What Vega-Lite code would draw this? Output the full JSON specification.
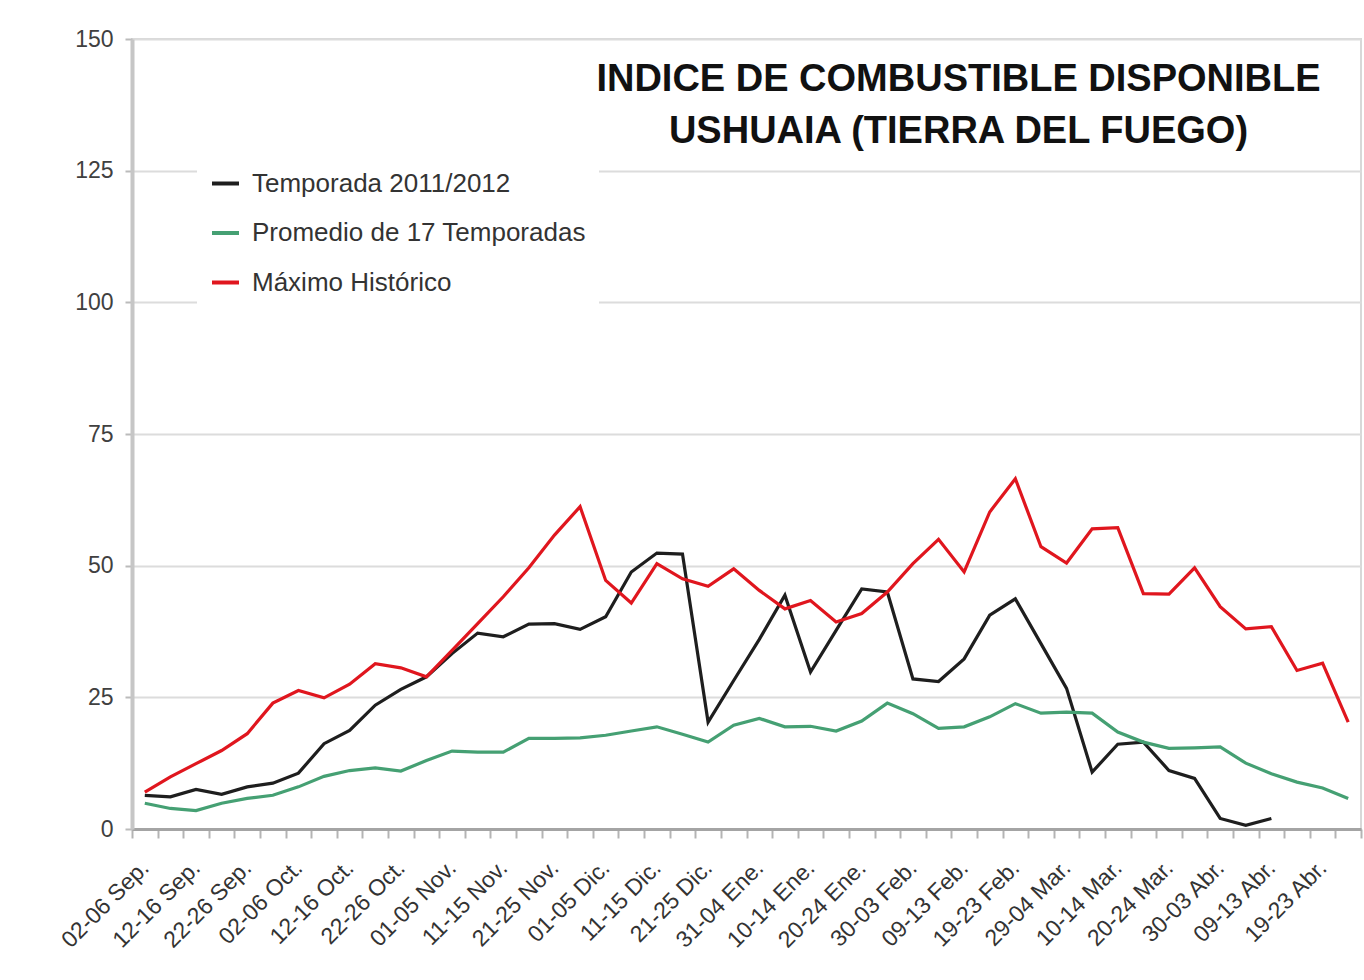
{
  "$schema": "https://vega.github.io/schema/vega-lite/v6.json",
  "width": 1229,
  "height": 790,
  "autosize": {"type": "none"},
  "padding": {"left": 132, "top": 39, "right": 3, "bottom": 151},
  "background": "#ffffff",
  "title": {
    "text": ["INDICE DE COMBUSTIBLE DISPONIBLE", "USHUAIA (TIERRA DEL FUEGO)"],
    "anchor": "middle",
    "frame": "group",
    "orient": "top",
    "baseline": "top",
    "offset": 0,
    "dx": 212,
    "dy": 123,
    "font": "Liberation Sans, Arial, sans-serif",
    "fontSize": 38,
    "fontWeight": "bold",
    "color": "#111111",
    "lineHeight": 52
  },
  "data": {
    "values": [
      {"periodo": "02-06 Sep.", "serie": "Temporada 2011/2012", "valor": 6.4},
      {"periodo": "07-11 Sep.", "serie": "Temporada 2011/2012", "valor": 6.1},
      {"periodo": "12-16 Sep.", "serie": "Temporada 2011/2012", "valor": 7.5},
      {"periodo": "17-21 Sep.", "serie": "Temporada 2011/2012", "valor": 6.6},
      {"periodo": "22-26 Sep.", "serie": "Temporada 2011/2012", "valor": 8.0},
      {"periodo": "27-01 Oct.", "serie": "Temporada 2011/2012", "valor": 8.7},
      {"periodo": "02-06 Oct.", "serie": "Temporada 2011/2012", "valor": 10.6},
      {"periodo": "07-11 Oct.", "serie": "Temporada 2011/2012", "valor": 16.2},
      {"periodo": "12-16 Oct.", "serie": "Temporada 2011/2012", "valor": 18.7},
      {"periodo": "17-21 Oct.", "serie": "Temporada 2011/2012", "valor": 23.5},
      {"periodo": "22-26 Oct.", "serie": "Temporada 2011/2012", "valor": 26.5},
      {"periodo": "27-31 Oct.", "serie": "Temporada 2011/2012", "valor": 28.9},
      {"periodo": "01-05 Nov.", "serie": "Temporada 2011/2012", "valor": 33.3},
      {"periodo": "06-10 Nov.", "serie": "Temporada 2011/2012", "valor": 37.2},
      {"periodo": "11-15 Nov.", "serie": "Temporada 2011/2012", "valor": 36.5},
      {"periodo": "16-20 Nov.", "serie": "Temporada 2011/2012", "valor": 38.9},
      {"periodo": "21-25 Nov.", "serie": "Temporada 2011/2012", "valor": 39.0},
      {"periodo": "26-30 Nov.", "serie": "Temporada 2011/2012", "valor": 37.9},
      {"periodo": "01-05 Dic.", "serie": "Temporada 2011/2012", "valor": 40.3},
      {"periodo": "06-10 Dic.", "serie": "Temporada 2011/2012", "valor": 48.8},
      {"periodo": "11-15 Dic.", "serie": "Temporada 2011/2012", "valor": 52.4},
      {"periodo": "16-20 Dic.", "serie": "Temporada 2011/2012", "valor": 52.2},
      {"periodo": "21-25 Dic.", "serie": "Temporada 2011/2012", "valor": 20.3},
      {"periodo": "26-30 Dic.", "serie": "Temporada 2011/2012", "valor": 28.2},
      {"periodo": "31-04 Ene.", "serie": "Temporada 2011/2012", "valor": 36.0},
      {"periodo": "05-09 Ene.", "serie": "Temporada 2011/2012", "valor": 44.4},
      {"periodo": "10-14 Ene.", "serie": "Temporada 2011/2012", "valor": 29.8},
      {"periodo": "15-19 Ene.", "serie": "Temporada 2011/2012", "valor": 37.7},
      {"periodo": "20-24 Ene.", "serie": "Temporada 2011/2012", "valor": 45.6},
      {"periodo": "25-29 Ene.", "serie": "Temporada 2011/2012", "valor": 45.0},
      {"periodo": "30-03 Feb.", "serie": "Temporada 2011/2012", "valor": 28.5},
      {"periodo": "04-08 Feb.", "serie": "Temporada 2011/2012", "valor": 28.0},
      {"periodo": "09-13 Feb.", "serie": "Temporada 2011/2012", "valor": 32.3},
      {"periodo": "14-18 Feb.", "serie": "Temporada 2011/2012", "valor": 40.6},
      {"periodo": "19-23 Feb.", "serie": "Temporada 2011/2012", "valor": 43.7},
      {"periodo": "24-28 Feb.", "serie": "Temporada 2011/2012", "valor": 35.2},
      {"periodo": "29-04 Mar.", "serie": "Temporada 2011/2012", "valor": 26.7},
      {"periodo": "05-09 Mar.", "serie": "Temporada 2011/2012", "valor": 10.8},
      {"periodo": "10-14 Mar.", "serie": "Temporada 2011/2012", "valor": 16.1},
      {"periodo": "15-19 Mar.", "serie": "Temporada 2011/2012", "valor": 16.5},
      {"periodo": "20-24 Mar.", "serie": "Temporada 2011/2012", "valor": 11.1},
      {"periodo": "25-29 Mar.", "serie": "Temporada 2011/2012", "valor": 9.6},
      {"periodo": "30-03 Abr.", "serie": "Temporada 2011/2012", "valor": 2.0},
      {"periodo": "04-08 Abr.", "serie": "Temporada 2011/2012", "valor": 0.7},
      {"periodo": "09-13 Abr.", "serie": "Temporada 2011/2012", "valor": 2.0},

      {"periodo": "02-06 Sep.", "serie": "Promedio de 17 Temporadas", "valor": 4.9},
      {"periodo": "07-11 Sep.", "serie": "Promedio de 17 Temporadas", "valor": 3.9},
      {"periodo": "12-16 Sep.", "serie": "Promedio de 17 Temporadas", "valor": 3.5},
      {"periodo": "17-21 Sep.", "serie": "Promedio de 17 Temporadas", "valor": 4.9},
      {"periodo": "22-26 Sep.", "serie": "Promedio de 17 Temporadas", "valor": 5.8},
      {"periodo": "27-01 Oct.", "serie": "Promedio de 17 Temporadas", "valor": 6.4},
      {"periodo": "02-06 Oct.", "serie": "Promedio de 17 Temporadas", "valor": 8.0},
      {"periodo": "07-11 Oct.", "serie": "Promedio de 17 Temporadas", "valor": 10.0},
      {"periodo": "12-16 Oct.", "serie": "Promedio de 17 Temporadas", "valor": 11.1},
      {"periodo": "17-21 Oct.", "serie": "Promedio de 17 Temporadas", "valor": 11.6},
      {"periodo": "22-26 Oct.", "serie": "Promedio de 17 Temporadas", "valor": 11.0},
      {"periodo": "27-31 Oct.", "serie": "Promedio de 17 Temporadas", "valor": 13.0},
      {"periodo": "01-05 Nov.", "serie": "Promedio de 17 Temporadas", "valor": 14.8},
      {"periodo": "06-10 Nov.", "serie": "Promedio de 17 Temporadas", "valor": 14.6},
      {"periodo": "11-15 Nov.", "serie": "Promedio de 17 Temporadas", "valor": 14.6},
      {"periodo": "16-20 Nov.", "serie": "Promedio de 17 Temporadas", "valor": 17.2},
      {"periodo": "21-25 Nov.", "serie": "Promedio de 17 Temporadas", "valor": 17.2},
      {"periodo": "26-30 Nov.", "serie": "Promedio de 17 Temporadas", "valor": 17.3},
      {"periodo": "01-05 Dic.", "serie": "Promedio de 17 Temporadas", "valor": 17.8},
      {"periodo": "06-10 Dic.", "serie": "Promedio de 17 Temporadas", "valor": 18.6},
      {"periodo": "11-15 Dic.", "serie": "Promedio de 17 Temporadas", "valor": 19.4},
      {"periodo": "16-20 Dic.", "serie": "Promedio de 17 Temporadas", "valor": 18.0},
      {"periodo": "21-25 Dic.", "serie": "Promedio de 17 Temporadas", "valor": 16.5},
      {"periodo": "26-30 Dic.", "serie": "Promedio de 17 Temporadas", "valor": 19.7},
      {"periodo": "31-04 Ene.", "serie": "Promedio de 17 Temporadas", "valor": 21.0},
      {"periodo": "05-09 Ene.", "serie": "Promedio de 17 Temporadas", "valor": 19.4},
      {"periodo": "10-14 Ene.", "serie": "Promedio de 17 Temporadas", "valor": 19.5},
      {"periodo": "15-19 Ene.", "serie": "Promedio de 17 Temporadas", "valor": 18.6},
      {"periodo": "20-24 Ene.", "serie": "Promedio de 17 Temporadas", "valor": 20.5},
      {"periodo": "25-29 Ene.", "serie": "Promedio de 17 Temporadas", "valor": 23.9},
      {"periodo": "30-03 Feb.", "serie": "Promedio de 17 Temporadas", "valor": 21.9},
      {"periodo": "04-08 Feb.", "serie": "Promedio de 17 Temporadas", "valor": 19.1},
      {"periodo": "09-13 Feb.", "serie": "Promedio de 17 Temporadas", "valor": 19.4},
      {"periodo": "14-18 Feb.", "serie": "Promedio de 17 Temporadas", "valor": 21.3},
      {"periodo": "19-23 Feb.", "serie": "Promedio de 17 Temporadas", "valor": 23.8},
      {"periodo": "24-28 Feb.", "serie": "Promedio de 17 Temporadas", "valor": 22.0},
      {"periodo": "29-04 Mar.", "serie": "Promedio de 17 Temporadas", "valor": 22.2},
      {"periodo": "05-09 Mar.", "serie": "Promedio de 17 Temporadas", "valor": 22.0},
      {"periodo": "10-14 Mar.", "serie": "Promedio de 17 Temporadas", "valor": 18.4},
      {"periodo": "15-19 Mar.", "serie": "Promedio de 17 Temporadas", "valor": 16.5},
      {"periodo": "20-24 Mar.", "serie": "Promedio de 17 Temporadas", "valor": 15.3},
      {"periodo": "25-29 Mar.", "serie": "Promedio de 17 Temporadas", "valor": 15.4},
      {"periodo": "30-03 Abr.", "serie": "Promedio de 17 Temporadas", "valor": 15.6},
      {"periodo": "04-08 Abr.", "serie": "Promedio de 17 Temporadas", "valor": 12.5},
      {"periodo": "09-13 Abr.", "serie": "Promedio de 17 Temporadas", "valor": 10.5},
      {"periodo": "14-18 Abr.", "serie": "Promedio de 17 Temporadas", "valor": 8.9},
      {"periodo": "19-23 Abr.", "serie": "Promedio de 17 Temporadas", "valor": 7.8},
      {"periodo": "24-28 Abr.", "serie": "Promedio de 17 Temporadas", "valor": 5.8},

      {"periodo": "02-06 Sep.", "serie": "Máximo Histórico", "valor": 7.0},
      {"periodo": "07-11 Sep.", "serie": "Máximo Histórico", "valor": 9.9},
      {"periodo": "12-16 Sep.", "serie": "Máximo Histórico", "valor": 12.4},
      {"periodo": "17-21 Sep.", "serie": "Máximo Histórico", "valor": 14.9},
      {"periodo": "22-26 Sep.", "serie": "Máximo Histórico", "valor": 18.1},
      {"periodo": "27-01 Oct.", "serie": "Máximo Histórico", "valor": 23.9},
      {"periodo": "02-06 Oct.", "serie": "Máximo Histórico", "valor": 26.3},
      {"periodo": "07-11 Oct.", "serie": "Máximo Histórico", "valor": 24.9},
      {"periodo": "12-16 Oct.", "serie": "Máximo Histórico", "valor": 27.5},
      {"periodo": "17-21 Oct.", "serie": "Máximo Histórico", "valor": 31.4},
      {"periodo": "22-26 Oct.", "serie": "Máximo Histórico", "valor": 30.6},
      {"periodo": "27-31 Oct.", "serie": "Máximo Histórico", "valor": 28.9},
      {"periodo": "01-05 Nov.", "serie": "Máximo Histórico", "valor": 33.9},
      {"periodo": "06-10 Nov.", "serie": "Máximo Histórico", "valor": 39.0},
      {"periodo": "11-15 Nov.", "serie": "Máximo Histórico", "valor": 44.1},
      {"periodo": "16-20 Nov.", "serie": "Máximo Histórico", "valor": 49.6},
      {"periodo": "21-25 Nov.", "serie": "Máximo Histórico", "valor": 55.8},
      {"periodo": "26-30 Nov.", "serie": "Máximo Histórico", "valor": 61.2},
      {"periodo": "01-05 Dic.", "serie": "Máximo Histórico", "valor": 47.2},
      {"periodo": "06-10 Dic.", "serie": "Máximo Histórico", "valor": 42.9},
      {"periodo": "11-15 Dic.", "serie": "Máximo Histórico", "valor": 50.4},
      {"periodo": "16-20 Dic.", "serie": "Máximo Histórico", "valor": 47.5},
      {"periodo": "21-25 Dic.", "serie": "Máximo Histórico", "valor": 46.1},
      {"periodo": "26-30 Dic.", "serie": "Máximo Histórico", "valor": 49.4},
      {"periodo": "31-04 Ene.", "serie": "Máximo Histórico", "valor": 45.3},
      {"periodo": "05-09 Ene.", "serie": "Máximo Histórico", "valor": 41.8},
      {"periodo": "10-14 Ene.", "serie": "Máximo Histórico", "valor": 43.4},
      {"periodo": "15-19 Ene.", "serie": "Máximo Histórico", "valor": 39.3},
      {"periodo": "20-24 Ene.", "serie": "Máximo Histórico", "valor": 40.9},
      {"periodo": "25-29 Ene.", "serie": "Máximo Histórico", "valor": 45.0},
      {"periodo": "30-03 Feb.", "serie": "Máximo Histórico", "valor": 50.4},
      {"periodo": "04-08 Feb.", "serie": "Máximo Histórico", "valor": 55.0},
      {"periodo": "09-13 Feb.", "serie": "Máximo Histórico", "valor": 48.8},
      {"periodo": "14-18 Feb.", "serie": "Máximo Histórico", "valor": 60.2},
      {"periodo": "19-23 Feb.", "serie": "Máximo Histórico", "valor": 66.5},
      {"periodo": "24-28 Feb.", "serie": "Máximo Histórico", "valor": 53.6},
      {"periodo": "29-04 Mar.", "serie": "Máximo Histórico", "valor": 50.5},
      {"periodo": "05-09 Mar.", "serie": "Máximo Histórico", "valor": 57.0},
      {"periodo": "10-14 Mar.", "serie": "Máximo Histórico", "valor": 57.2},
      {"periodo": "15-19 Mar.", "serie": "Máximo Histórico", "valor": 44.7},
      {"periodo": "20-24 Mar.", "serie": "Máximo Histórico", "valor": 44.6},
      {"periodo": "25-29 Mar.", "serie": "Máximo Histórico", "valor": 49.6},
      {"periodo": "30-03 Abr.", "serie": "Máximo Histórico", "valor": 42.2},
      {"periodo": "04-08 Abr.", "serie": "Máximo Histórico", "valor": 38.0},
      {"periodo": "09-13 Abr.", "serie": "Máximo Histórico", "valor": 38.4},
      {"periodo": "14-18 Abr.", "serie": "Máximo Histórico", "valor": 30.1},
      {"periodo": "19-23 Abr.", "serie": "Máximo Histórico", "valor": 31.5},
      {"periodo": "24-28 Abr.", "serie": "Máximo Histórico", "valor": 20.3}
    ]
  },
  "mark": {"type": "line", "strokeWidth": 3.2, "clip": false},
  "encoding": {
    "x": {
      "field": "periodo",
      "type": "ordinal",
      "sort": null,
      "bandPosition": 0.5,
      "scale": {"type": "band", "paddingInner": 0, "paddingOuter": 0},
      "axis": {
        "title": null,
        "tickBand": "extent",
        "grid": false,
        "domainColor": "#a4a4a4",
        "domainWidth": 3,
        "tickColor": "#b4b4b4",
        "tickWidth": 2,
        "tickSize": 9,
        "labelAngle": -45,
        "labelAlign": "right",
        "labelBaseline": "middle",
        "labelPadding": 26,
        "labelFont": "Liberation Sans, Arial, sans-serif",
        "labelFontSize": 23,
        "labelColor": "#333333",
        "labelOverlap": false,
        "labelExpr": "indexof(['02-06 Sep.','12-16 Sep.','22-26 Sep.','02-06 Oct.','12-16 Oct.','22-26 Oct.','01-05 Nov.','11-15 Nov.','21-25 Nov.','01-05 Dic.','11-15 Dic.','21-25 Dic.','31-04 Ene.','10-14 Ene.','20-24 Ene.','30-03 Feb.','09-13 Feb.','19-23 Feb.','29-04 Mar.','10-14 Mar.','20-24 Mar.','30-03 Abr.','09-13 Abr.','19-23 Abr.'], datum.value) >= 0 ? datum.value : ''"
      }
    },
    "y": {
      "field": "valor",
      "type": "quantitative",
      "scale": {"domain": [0, 150], "nice": false},
      "axis": {
        "title": null,
        "values": [0, 25, 50, 75, 100, 125, 150],
        "grid": true,
        "gridColor": "#dcdcdc",
        "gridWidth": 2,
        "domainColor": "#c6c6c6",
        "domainWidth": 4,
        "tickColor": "#bbbbbb",
        "tickWidth": 2,
        "tickSize": 7,
        "labelPadding": 12,
        "labelFont": "Liberation Sans, Arial, sans-serif",
        "labelFontSize": 23,
        "labelColor": "#404040"
      }
    },
    "color": {
      "field": "serie",
      "type": "nominal",
      "scale": {
        "domain": ["Temporada 2011/2012", "Promedio de 17 Temporadas", "Máximo Histórico"],
        "range": ["#1e1e1e", "#45a073", "#e0161e"]
      },
      "legend": {
        "title": null,
        "orient": "none",
        "legendX": 65,
        "legendY": 116,
        "fillColor": "#ffffff",
        "padding": 13,
        "symbolType": "stroke",
        "symbolSize": 729,
        "symbolStrokeWidth": 4,
        "labelFont": "Liberation Sans, Arial, sans-serif",
        "labelFontSize": 26,
        "labelColor": "#333333",
        "labelOffset": 11,
        "rowPadding": 20.5,
        "labelLimit": 500
      }
    }
  },
  "config": {
    "view": {"stroke": "#d8d8d8", "strokeWidth": 2}
  }
}
